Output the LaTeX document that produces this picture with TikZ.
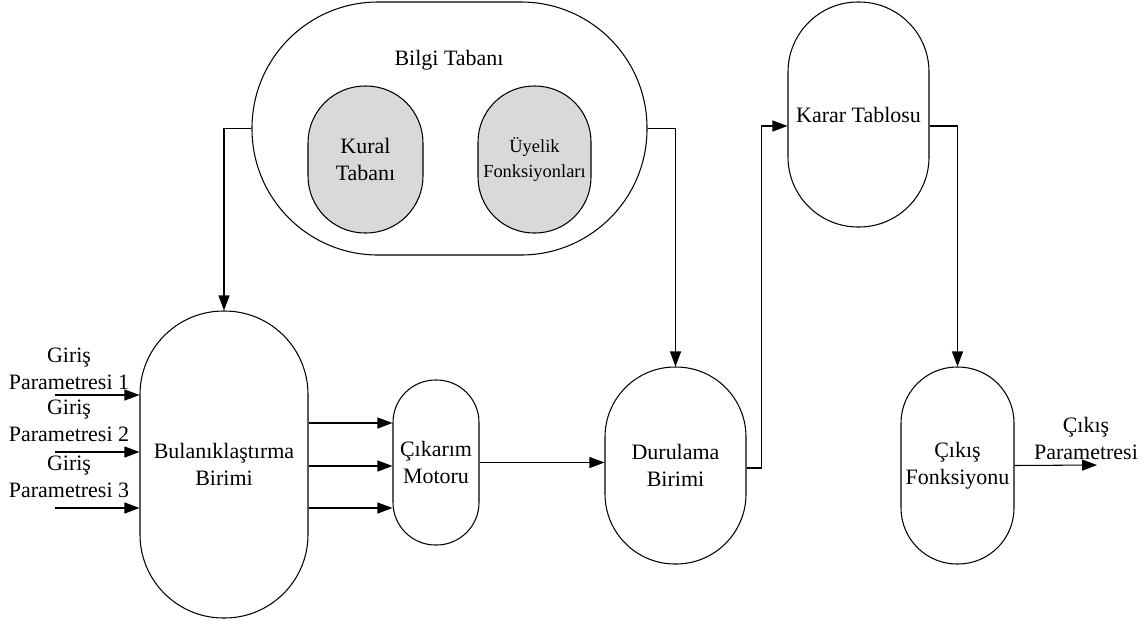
\documentclass[tikz,border=0pt]{standalone}
\usepackage{fontspec}
\setmainfont{Liberation Serif}
\newfontfamily\timesfont{Liberation Serif}
\usetikzlibrary{arrows.meta}
\definecolor{kutugri}{HTML}{D9D9D9}

\begin{document}
\begin{tikzpicture}[x=1cm, y=1cm,
	line width=0.6pt,
	>={Triangle[length=0.3cm, width=0.22cm]},
	stadium/.style n args={3}{draw, rectangle, align=center, inner sep=0,
		minimum width=#1cm, minimum height=#2cm, rounded corners=#3cm,
		font=\timesfont\fontsize{12.5}{15.2}\selectfont},
	lbl/.style={align=center, inner sep=0, text depth=0pt,
		font=\timesfont\fontsize{12.5}{15.2}\selectfont}
]
\useasboundingbox (0,0) rectangle (22.9,-12.52);

\node[stadium={7.90}{5.06}{2.52}] (bilgi) at (8.99,-2.57) {};
\node[lbl, anchor=base] (bilgilbl) at (8.98,-1.30) {Bilgi Tabanı};
\node[stadium={2.30}{2.94}{1.14}, fill=kutugri] (kural) at (7.31,-3.19)
	{Kural\\Tabanı};
\node[stadium={2.26}{2.94}{1.12}, fill=kutugri,
	font=\timesfont\fontsize{10.5}{14.2}\selectfont] (uyelik) at (10.69,-3.19)
	{Üyelik\\Fonksiyonları};

\node[stadium={2.82}{4.50}{1.40}] (karar) at (17.17,-2.29) {Karar Tablosu};
\node[stadium={3.36}{6.14}{1.67}] (bulanik) at (4.48,-9.29)
	{Bulanıklaştırma\\Birimi};
\node[stadium={1.72}{3.30}{0.85}] (cikarim) at (8.72,-9.25) {Çıkarım\\Motoru};
\node[stadium={2.82}{3.94}{1.40}] (durulama) at (13.51,-9.31)
	{Durulama\\Birimi};
\node[stadium={2.26}{3.94}{1.12}] (cikis) at (19.15,-9.31)
	{Çıkış\\Fonksiyonu};

% girisler
\foreach \i/\y/\ly in {1/-7.90/-7.80, 2/-9.04/-8.84, 3/-10.16/-9.96}{
	\coordinate (in\i) at (1.10,\y);
	\draw[->] (in\i) -- (in\i -| bulanik.west);
	\node[lbl, anchor=south] (giris\i) at (1.38,\ly) {Giriş\\Parametresi \i};
}

\foreach \dy [count=\k] in {0.79,-0.07,-0.91}{
	\coordinate (c\k) at ([yshift=\dy cm]cikarim.west);
	\draw[->] (bulanik.east |- c\k) -- (c\k);
}

\draw[->] (bilgi.west) -| (bulanik.north);
\draw[->] (bilgi.east) -| (durulama.north);
\draw[->] (cikarim.east) -- (cikarim.east -| durulama.west);
\draw[->] ([yshift=-0.05cm]durulama.east) -- ++(0.3,0)
	|- ([yshift=-0.23cm]karar.west);
\draw[->] ([yshift=-0.23cm]karar.east) -| (cikis.north);

\coordinate (out) at (21.94,-9.30);
\draw[->] (cikis.east) -- (out);
\node[lbl, anchor=south] (cikislbl) at (21.72,-9.20) {Çıkış\\Parametresi};
\end{tikzpicture}
\end{document}
